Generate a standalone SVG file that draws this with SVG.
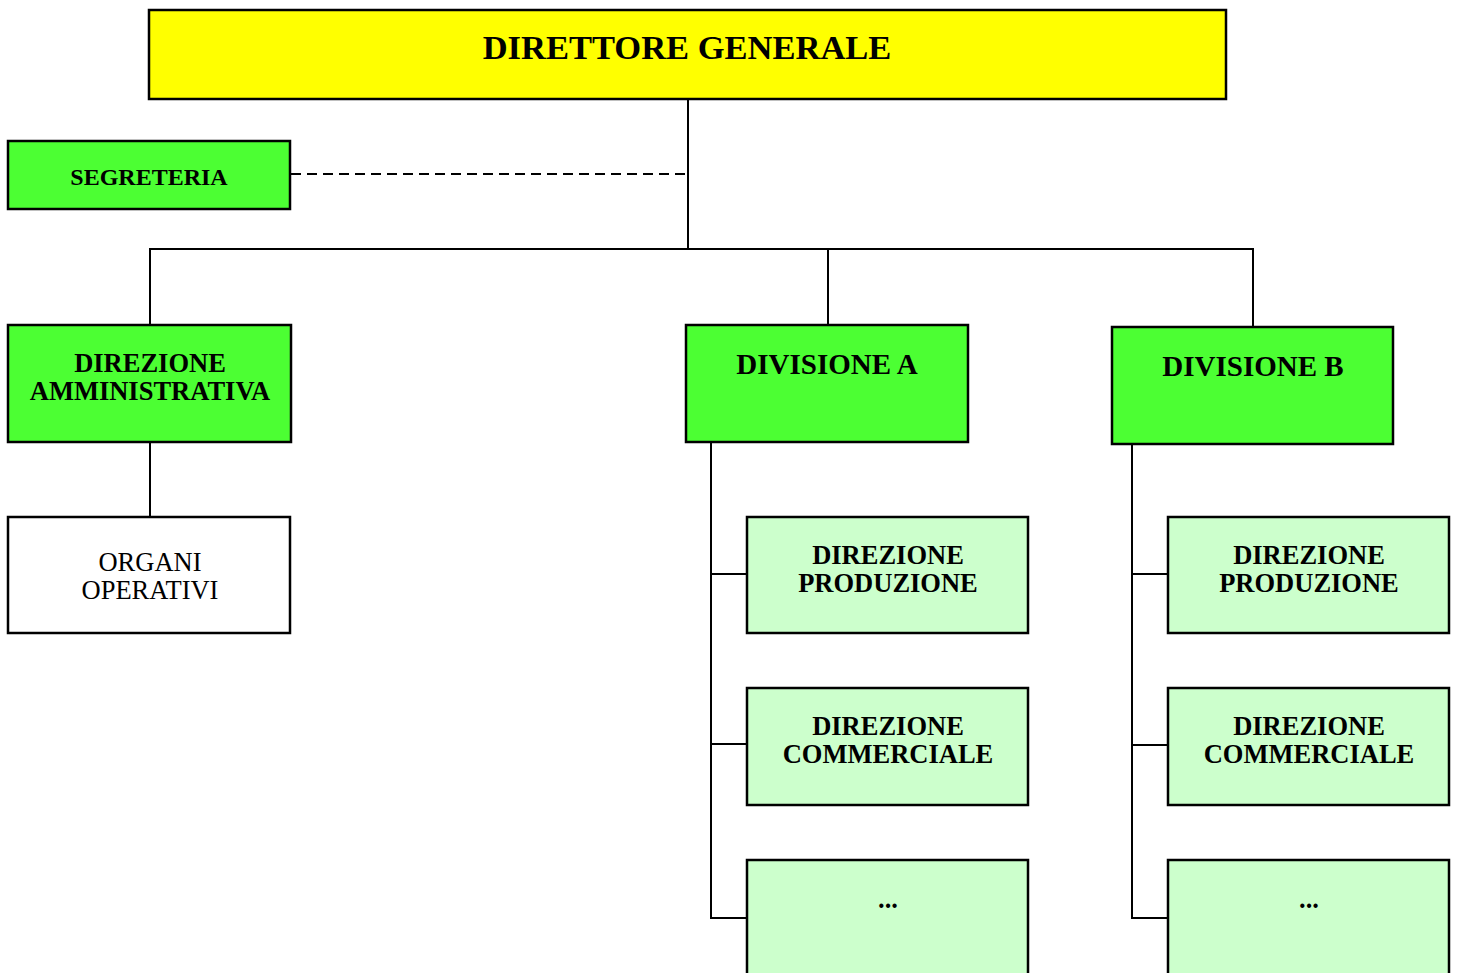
<svg xmlns="http://www.w3.org/2000/svg" width="1458" height="973" viewBox="0 0 1458 973">
<style>
.box{stroke:#000;stroke-width:2.5}
.yel{fill:#ffff00}
.grn{fill:#4cff33}
.lgt{fill:#ccffcc}
.wht{fill:#fff}
text{font-family:"Liberation Serif","Times New Roman",serif;text-anchor:middle;fill:#000}
.b{font-weight:bold}
.ln{stroke:#000;stroke-width:2;fill:none}
</style>
<rect width="1458" height="973" fill="#fff"/>
<g id="connectors">
<line class="ln" x1="688" y1="99" x2="688" y2="249"/>
<line class="ln" x1="291" y1="174" x2="688" y2="174" stroke-dasharray="10,6"/>
<polyline class="ln" points="150,325 150,249 1253,249 1253,327"/>
<line class="ln" x1="828" y1="249" x2="828" y2="325"/>
<line class="ln" x1="150" y1="442" x2="150" y2="517"/>
<polyline class="ln" points="711,442 711,918 747,918"/>
<line class="ln" x1="711" y1="574" x2="747" y2="574"/>
<line class="ln" x1="711" y1="744" x2="747" y2="744"/>
<polyline class="ln" points="1132,444 1132,918 1168,918"/>
<line class="ln" x1="1132" y1="574" x2="1168" y2="574"/>
<line class="ln" x1="1132" y1="745" x2="1168" y2="745"/>
</g>
<g id="direttore">
<rect class="box yel" x="149" y="10" width="1077" height="89"/>
<text class="b" x="687" y="59" font-size="34.5">DIRETTORE GENERALE</text>
</g>
<g id="segreteria">
<rect class="box grn" x="8" y="141" width="282" height="68"/>
<text class="b" x="149" y="185" font-size="24">SEGRETERIA</text>
</g>
<g id="dir-amm">
<rect class="box grn" x="8" y="325" width="283" height="117"/>
<text class="b" x="150" y="372" font-size="26.5">DIREZIONE</text>
<text class="b" x="150" y="400" font-size="26.5">AMMINISTRATIVA</text>
</g>
<g id="organi">
<rect class="box wht" x="8" y="517" width="282" height="116"/>
<text x="150" y="571" font-size="26.5">ORGANI</text>
<text x="150" y="599" font-size="26.5">OPERATIVI</text>
</g>
<g id="div-a">
<rect class="box grn" x="686" y="325" width="282" height="117"/>
<text class="b" x="827" y="374" font-size="29">DIVISIONE A</text>
</g>
<g id="div-b">
<rect class="box grn" x="1112" y="327" width="281" height="117"/>
<text class="b" x="1253" y="376" font-size="29">DIVISIONE B</text>
</g>
<g id="a-prod">
<rect class="box lgt" x="747" y="517" width="281" height="116"/>
<text class="b" x="888" y="564" font-size="26.5">DIREZIONE</text>
<text class="b" x="888" y="592" font-size="26.5">PRODUZIONE</text>
</g>
<g id="a-comm">
<rect class="box lgt" x="747" y="688" width="281" height="117"/>
<text class="b" x="888" y="735" font-size="26.5">DIREZIONE</text>
<text class="b" x="888" y="763" font-size="26.5">COMMERCIALE</text>
</g>
<g id="a-more">
<rect class="box lgt" x="747" y="860" width="281" height="130"/>
<text class="b" x="888" y="908" font-size="26.5">...</text>
</g>
<g id="b-prod">
<rect class="box lgt" x="1168" y="517" width="281" height="116"/>
<text class="b" x="1309" y="564" font-size="26.5">DIREZIONE</text>
<text class="b" x="1309" y="592" font-size="26.5">PRODUZIONE</text>
</g>
<g id="b-comm">
<rect class="box lgt" x="1168" y="688" width="281" height="117"/>
<text class="b" x="1309" y="735" font-size="26.5">DIREZIONE</text>
<text class="b" x="1309" y="763" font-size="26.5">COMMERCIALE</text>
</g>
<g id="b-more">
<rect class="box lgt" x="1168" y="860" width="281" height="130"/>
<text class="b" x="1309" y="908" font-size="26.5">...</text>
</g>
</svg>
